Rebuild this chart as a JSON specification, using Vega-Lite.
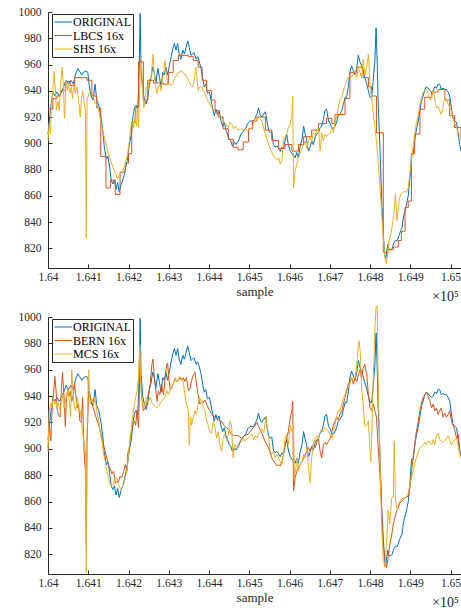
{
"$schema": "https://vega.github.io/schema/vega-lite/v6.json",
"background": "white",
"padding": {"left": 18, "top": 6, "right": 2, "bottom": 2},
"spacing": 0,
"config": {
  "view": {"stroke": null},
  "font": "Liberation Serif",
  "axis": {"domainColor": "#262626", "domainWidth": 1, "tickColor": "#262626", "tickSize": -4, "tickWidth": 1, "labelFont": "Liberation Serif", "labelFontSize": 11.5, "labelColor": "#262626", "titleFont": "Liberation Serif", "titleFontSize": 13, "titleFontWeight": "normal", "titleColor": "#262626", "grid": false},
  "axisX": {"labelPadding": 7, "titlePadding": 3, "labelFlush": false},
  "axisY": {"labelPadding": 11, "format": "d"},
  "legend": {"orient": "none", "legendX": 4, "legendY": 2, "strokeColor": "#262626", "fillColor": "white", "padding": 2, "symbolType": "M-1,0H2.2", "symbolSize": 121, "symbolStrokeWidth": 1.5, "labelFont": "Liberation Serif", "labelFontSize": 12, "labelColor": "black", "labelOffset": 7, "rowPadding": 1.5, "title": null},
  "line": {"strokeWidth": 1, "clip": true},
  "title": {"font": "Liberation Serif", "fontSize": 14, "fontWeight": "normal", "color": "#262626"}
},
"datasets": {
"orig": [
{"s":"ORIGINAL","x":164000,"y":907},{"s":"ORIGINAL","x":164006,"y":925},{"s":"ORIGINAL","x":164012,"y":939},{"s":"ORIGINAL","x":164017,"y":936},{"s":"ORIGINAL","x":164022,"y":939},{"s":"ORIGINAL","x":164028,"y":936},{"s":"ORIGINAL","x":164035,"y":940},{"s":"ORIGINAL","x":164040,"y":944},{"s":"ORIGINAL","x":164045,"y":948},{"s":"ORIGINAL","x":164051,"y":945},{"s":"ORIGINAL","x":164057,"y":948},{"s":"ORIGINAL","x":164063,"y":945},{"s":"ORIGINAL","x":164068,"y":952},{"s":"ORIGINAL","x":164074,"y":957},{"s":"ORIGINAL","x":164078,"y":955},{"s":"ORIGINAL","x":164084,"y":952},{"s":"ORIGINAL","x":164088,"y":954},{"s":"ORIGINAL","x":164094,"y":955},{"s":"ORIGINAL","x":164099,"y":954},{"s":"ORIGINAL","x":164102,"y":945},{"s":"ORIGINAL","x":164107,"y":936},{"s":"ORIGINAL","x":164112,"y":933},{"s":"ORIGINAL","x":164117,"y":945},{"s":"ORIGINAL","x":164121,"y":933},{"s":"ORIGINAL","x":164126,"y":929},{"s":"ORIGINAL","x":164131,"y":921},{"s":"ORIGINAL","x":164136,"y":910},{"s":"ORIGINAL","x":164140,"y":897},{"s":"ORIGINAL","x":164145,"y":888},{"s":"ORIGINAL","x":164149,"y":890},{"s":"ORIGINAL","x":164153,"y":882},{"s":"ORIGINAL","x":164157,"y":872},{"s":"ORIGINAL","x":164161,"y":869},{"s":"ORIGINAL","x":164165,"y":872},{"s":"ORIGINAL","x":164169,"y":865},{"s":"ORIGINAL","x":164173,"y":870},{"s":"ORIGINAL","x":164177,"y":863},{"s":"ORIGINAL","x":164182,"y":869},{"s":"ORIGINAL","x":164186,"y":872},{"s":"ORIGINAL","x":164190,"y":877},{"s":"ORIGINAL","x":164194,"y":883},{"s":"ORIGINAL","x":164198,"y":889},{"s":"ORIGINAL","x":164202,"y":899},{"s":"ORIGINAL","x":164207,"y":907},{"s":"ORIGINAL","x":164211,"y":920},{"s":"ORIGINAL","x":164215,"y":927},{"s":"ORIGINAL","x":164219,"y":929},{"s":"ORIGINAL","x":164223,"y":926},{"s":"ORIGINAL","x":164226,"y":950},{"s":"ORIGINAL","x":164229,"y":999},{"s":"ORIGINAL","x":164231,"y":958},{"s":"ORIGINAL","x":164235,"y":940},{"s":"ORIGINAL","x":164240,"y":933},{"s":"ORIGINAL","x":164244,"y":930},{"s":"ORIGINAL","x":164248,"y":935},{"s":"ORIGINAL","x":164252,"y":945},{"s":"ORIGINAL","x":164256,"y":950},{"s":"ORIGINAL","x":164260,"y":958},{"s":"ORIGINAL","x":164264,"y":954},{"s":"ORIGINAL","x":164268,"y":946},{"s":"ORIGINAL","x":164273,"y":957},{"s":"ORIGINAL","x":164277,"y":950},{"s":"ORIGINAL","x":164281,"y":943},{"s":"ORIGINAL","x":164285,"y":954},{"s":"ORIGINAL","x":164289,"y":952},{"s":"ORIGINAL","x":164293,"y":958},{"s":"ORIGINAL","x":164297,"y":952},{"s":"ORIGINAL","x":164301,"y":958},{"s":"ORIGINAL","x":164306,"y":966},{"s":"ORIGINAL","x":164310,"y":972},{"s":"ORIGINAL","x":164314,"y":976},{"s":"ORIGINAL","x":164318,"y":971},{"s":"ORIGINAL","x":164322,"y":976},{"s":"ORIGINAL","x":164326,"y":968},{"s":"ORIGINAL","x":164330,"y":964},{"s":"ORIGINAL","x":164335,"y":971},{"s":"ORIGINAL","x":164339,"y":968},{"s":"ORIGINAL","x":164343,"y":973},{"s":"ORIGINAL","x":164347,"y":978},{"s":"ORIGINAL","x":164351,"y":973},{"s":"ORIGINAL","x":164355,"y":967},{"s":"ORIGINAL","x":164359,"y":968},{"s":"ORIGINAL","x":164363,"y":969},{"s":"ORIGINAL","x":164368,"y":964},{"s":"ORIGINAL","x":164372,"y":966},{"s":"ORIGINAL","x":164376,"y":962},{"s":"ORIGINAL","x":164380,"y":957},{"s":"ORIGINAL","x":164384,"y":950},{"s":"ORIGINAL","x":164388,"y":943},{"s":"ORIGINAL","x":164392,"y":945},{"s":"ORIGINAL","x":164396,"y":938},{"s":"ORIGINAL","x":164401,"y":939},{"s":"ORIGINAL","x":164405,"y":933},{"s":"ORIGINAL","x":164409,"y":927},{"s":"ORIGINAL","x":164413,"y":921},{"s":"ORIGINAL","x":164417,"y":926},{"s":"ORIGINAL","x":164421,"y":922},{"s":"ORIGINAL","x":164425,"y":925},{"s":"ORIGINAL","x":164430,"y":917},{"s":"ORIGINAL","x":164434,"y":913},{"s":"ORIGINAL","x":164438,"y":916},{"s":"ORIGINAL","x":164442,"y":910},{"s":"ORIGINAL","x":164446,"y":907},{"s":"ORIGINAL","x":164450,"y":903},{"s":"ORIGINAL","x":164454,"y":902},{"s":"ORIGINAL","x":164458,"y":898},{"s":"ORIGINAL","x":164463,"y":901},{"s":"ORIGINAL","x":164467,"y":899},{"s":"ORIGINAL","x":164471,"y":901},{"s":"ORIGINAL","x":164475,"y":903},{"s":"ORIGINAL","x":164479,"y":907},{"s":"ORIGINAL","x":164483,"y":908},{"s":"ORIGINAL","x":164487,"y":910},{"s":"ORIGINAL","x":164491,"y":911},{"s":"ORIGINAL","x":164496,"y":915},{"s":"ORIGINAL","x":164502,"y":917},{"s":"ORIGINAL","x":164511,"y":917},{"s":"ORIGINAL","x":164519,"y":922},{"s":"ORIGINAL","x":164523,"y":927},{"s":"ORIGINAL","x":164527,"y":922},{"s":"ORIGINAL","x":164531,"y":920},{"s":"ORIGINAL","x":164540,"y":924},{"s":"ORIGINAL","x":164544,"y":917},{"s":"ORIGINAL","x":164548,"y":910},{"s":"ORIGINAL","x":164552,"y":908},{"s":"ORIGINAL","x":164556,"y":909},{"s":"ORIGINAL","x":164560,"y":899},{"s":"ORIGINAL","x":164564,"y":897},{"s":"ORIGINAL","x":164569,"y":898},{"s":"ORIGINAL","x":164573,"y":896},{"s":"ORIGINAL","x":164577,"y":894},{"s":"ORIGINAL","x":164581,"y":897},{"s":"ORIGINAL","x":164585,"y":896},{"s":"ORIGINAL","x":164589,"y":902},{"s":"ORIGINAL","x":164593,"y":907},{"s":"ORIGINAL","x":164597,"y":899},{"s":"ORIGINAL","x":164602,"y":894},{"s":"ORIGINAL","x":164606,"y":892},{"s":"ORIGINAL","x":164610,"y":891},{"s":"ORIGINAL","x":164614,"y":889},{"s":"ORIGINAL","x":164618,"y":893},{"s":"ORIGINAL","x":164622,"y":889},{"s":"ORIGINAL","x":164626,"y":897},{"s":"ORIGINAL","x":164631,"y":903},{"s":"ORIGINAL","x":164635,"y":913},{"s":"ORIGINAL","x":164639,"y":907},{"s":"ORIGINAL","x":164643,"y":902},{"s":"ORIGINAL","x":164647,"y":894},{"s":"ORIGINAL","x":164651,"y":897},{"s":"ORIGINAL","x":164655,"y":902},{"s":"ORIGINAL","x":164659,"y":899},{"s":"ORIGINAL","x":164664,"y":905},{"s":"ORIGINAL","x":164668,"y":907},{"s":"ORIGINAL","x":164672,"y":908},{"s":"ORIGINAL","x":164676,"y":912},{"s":"ORIGINAL","x":164680,"y":913},{"s":"ORIGINAL","x":164684,"y":918},{"s":"ORIGINAL","x":164688,"y":925},{"s":"ORIGINAL","x":164692,"y":926},{"s":"ORIGINAL","x":164697,"y":917},{"s":"ORIGINAL","x":164701,"y":915},{"s":"ORIGINAL","x":164705,"y":912},{"s":"ORIGINAL","x":164709,"y":911},{"s":"ORIGINAL","x":164713,"y":913},{"s":"ORIGINAL","x":164717,"y":916},{"s":"ORIGINAL","x":164721,"y":921},{"s":"ORIGINAL","x":164725,"y":922},{"s":"ORIGINAL","x":164730,"y":925},{"s":"ORIGINAL","x":164734,"y":930},{"s":"ORIGINAL","x":164738,"y":935},{"s":"ORIGINAL","x":164742,"y":935},{"s":"ORIGINAL","x":164746,"y":943},{"s":"ORIGINAL","x":164750,"y":954},{"s":"ORIGINAL","x":164754,"y":959},{"s":"ORIGINAL","x":164759,"y":955},{"s":"ORIGINAL","x":164763,"y":952},{"s":"ORIGINAL","x":164767,"y":958},{"s":"ORIGINAL","x":164771,"y":967},{"s":"ORIGINAL","x":164775,"y":962},{"s":"ORIGINAL","x":164779,"y":959},{"s":"ORIGINAL","x":164783,"y":955},{"s":"ORIGINAL","x":164787,"y":950},{"s":"ORIGINAL","x":164792,"y":945},{"s":"ORIGINAL","x":164796,"y":940},{"s":"ORIGINAL","x":164800,"y":935},{"s":"ORIGINAL","x":164804,"y":935},{"s":"ORIGINAL","x":164808,"y":948},{"s":"ORIGINAL","x":164812,"y":963},{"s":"ORIGINAL","x":164815,"y":988},{"s":"ORIGINAL","x":164818,"y":960},{"s":"ORIGINAL","x":164820,"y":933},{"s":"ORIGINAL","x":164825,"y":894},{"s":"ORIGINAL","x":164829,"y":856},{"s":"ORIGINAL","x":164833,"y":831},{"s":"ORIGINAL","x":164837,"y":814},{"s":"ORIGINAL","x":164839,"y":812},{"s":"ORIGINAL","x":164844,"y":823},{"s":"ORIGINAL","x":164847,"y":819},{"s":"ORIGINAL","x":164852,"y":819},{"s":"ORIGINAL","x":164855,"y":820},{"s":"ORIGINAL","x":164859,"y":824},{"s":"ORIGINAL","x":164863,"y":826},{"s":"ORIGINAL","x":164868,"y":826},{"s":"ORIGINAL","x":164872,"y":830},{"s":"ORIGINAL","x":164876,"y":833},{"s":"ORIGINAL","x":164880,"y":836},{"s":"ORIGINAL","x":164882,"y":842},{"s":"ORIGINAL","x":164887,"y":849},{"s":"ORIGINAL","x":164891,"y":854},{"s":"ORIGINAL","x":164895,"y":860},{"s":"ORIGINAL","x":164899,"y":873},{"s":"ORIGINAL","x":164903,"y":892},{"s":"ORIGINAL","x":164907,"y":892},{"s":"ORIGINAL","x":164911,"y":902},{"s":"ORIGINAL","x":164915,"y":910},{"s":"ORIGINAL","x":164920,"y":917},{"s":"ORIGINAL","x":164924,"y":925},{"s":"ORIGINAL","x":164928,"y":933},{"s":"ORIGINAL","x":164932,"y":936},{"s":"ORIGINAL","x":164936,"y":941},{"s":"ORIGINAL","x":164940,"y":943},{"s":"ORIGINAL","x":164944,"y":942},{"s":"ORIGINAL","x":164949,"y":940},{"s":"ORIGINAL","x":164953,"y":939},{"s":"ORIGINAL","x":164957,"y":940},{"s":"ORIGINAL","x":164961,"y":943},{"s":"ORIGINAL","x":164965,"y":942},{"s":"ORIGINAL","x":164969,"y":945},{"s":"ORIGINAL","x":164973,"y":945},{"s":"ORIGINAL","x":164977,"y":941},{"s":"ORIGINAL","x":164981,"y":942},{"s":"ORIGINAL","x":164986,"y":941},{"s":"ORIGINAL","x":164990,"y":941},{"s":"ORIGINAL","x":164994,"y":939},{"s":"ORIGINAL","x":164998,"y":936},{"s":"ORIGINAL","x":165002,"y":927},{"s":"ORIGINAL","x":165006,"y":919},{"s":"ORIGINAL","x":165010,"y":917},{"s":"ORIGINAL","x":165015,"y":916},{"s":"ORIGINAL","x":165019,"y":907},{"s":"ORIGINAL","x":165023,"y":899},{"s":"ORIGINAL","x":165026,"y":894}
],
"top": [
{"s":"LBCS 16x","x":164000,"y":926},{"s":"LBCS 16x","x":164012,"y":934},{"s":"LBCS 16x","x":164022,"y":936},{"s":"LBCS 16x","x":164031,"y":940},{"s":"LBCS 16x","x":164043,"y":947},{"s":"LBCS 16x","x":164055,"y":944},{"s":"LBCS 16x","x":164066,"y":950},{"s":"LBCS 16x","x":164097,"y":948},{"s":"LBCS 16x","x":164109,"y":936},{"s":"LBCS 16x","x":164121,"y":927},{"s":"LBCS 16x","x":164131,"y":890},{"s":"LBCS 16x","x":164144,"y":866},{"s":"LBCS 16x","x":164155,"y":872},{"s":"LBCS 16x","x":164167,"y":861},{"s":"LBCS 16x","x":164179,"y":878},{"s":"LBCS 16x","x":164192,"y":885},{"s":"LBCS 16x","x":164200,"y":892},{"s":"LBCS 16x","x":164208,"y":916},{"s":"LBCS 16x","x":164218,"y":927},{"s":"LBCS 16x","x":164225,"y":962},{"s":"LBCS 16x","x":164237,"y":933},{"s":"LBCS 16x","x":164248,"y":948},{"s":"LBCS 16x","x":164262,"y":946},{"s":"LBCS 16x","x":164287,"y":945},{"s":"LBCS 16x","x":164299,"y":954},{"s":"LBCS 16x","x":164311,"y":963},{"s":"LBCS 16x","x":164324,"y":967},{"s":"LBCS 16x","x":164349,"y":966},{"s":"LBCS 16x","x":164361,"y":963},{"s":"LBCS 16x","x":164373,"y":958},{"s":"LBCS 16x","x":164383,"y":948},{"s":"LBCS 16x","x":164394,"y":940},{"s":"LBCS 16x","x":164406,"y":933},{"s":"LBCS 16x","x":164415,"y":925},{"s":"LBCS 16x","x":164423,"y":920},{"s":"LBCS 16x","x":164435,"y":911},{"s":"LBCS 16x","x":164448,"y":903},{"s":"LBCS 16x","x":164460,"y":897},{"s":"LBCS 16x","x":164472,"y":895},{"s":"LBCS 16x","x":164485,"y":901},{"s":"LBCS 16x","x":164498,"y":911},{"s":"LBCS 16x","x":164508,"y":917},{"s":"LBCS 16x","x":164519,"y":920},{"s":"LBCS 16x","x":164540,"y":910},{"s":"LBCS 16x","x":164556,"y":902},{"s":"LBCS 16x","x":164573,"y":896},{"s":"LBCS 16x","x":164589,"y":899},{"s":"LBCS 16x","x":164606,"y":894},{"s":"LBCS 16x","x":164622,"y":899},{"s":"LBCS 16x","x":164635,"y":905},{"s":"LBCS 16x","x":164655,"y":910},{"s":"LBCS 16x","x":164672,"y":915},{"s":"LBCS 16x","x":164692,"y":919},{"s":"LBCS 16x","x":164705,"y":915},{"s":"LBCS 16x","x":164713,"y":922},{"s":"LBCS 16x","x":164738,"y":934},{"s":"LBCS 16x","x":164750,"y":954},{"s":"LBCS 16x","x":164767,"y":958},{"s":"LBCS 16x","x":164783,"y":950},{"s":"LBCS 16x","x":164796,"y":943},{"s":"LBCS 16x","x":164804,"y":936},{"s":"LBCS 16x","x":164816,"y":908},{"s":"LBCS 16x","x":164833,"y":817},{"s":"LBCS 16x","x":164845,"y":819},{"s":"LBCS 16x","x":164858,"y":821},{"s":"LBCS 16x","x":164870,"y":826},{"s":"LBCS 16x","x":164878,"y":833},{"s":"LBCS 16x","x":164887,"y":851},{"s":"LBCS 16x","x":164895,"y":856},{"s":"LBCS 16x","x":164903,"y":892},{"s":"LBCS 16x","x":164911,"y":907},{"s":"LBCS 16x","x":164924,"y":926},{"s":"LBCS 16x","x":164936,"y":935},{"s":"LBCS 16x","x":164953,"y":939},{"s":"LBCS 16x","x":164969,"y":941},{"s":"LBCS 16x","x":164986,"y":933},{"s":"LBCS 16x","x":164998,"y":921},{"s":"LBCS 16x","x":165010,"y":912},{"s":"LBCS 16x","x":165026,"y":905},
{"s":"SHS 16x","x":164000,"y":902},{"s":"SHS 16x","x":164003,"y":915},{"s":"SHS 16x","x":164006,"y":907},{"s":"SHS 16x","x":164008,"y":925},{"s":"SHS 16x","x":164012,"y":940},{"s":"SHS 16x","x":164015,"y":955},{"s":"SHS 16x","x":164018,"y":943},{"s":"SHS 16x","x":164021,"y":925},{"s":"SHS 16x","x":164025,"y":932},{"s":"SHS 16x","x":164028,"y":925},{"s":"SHS 16x","x":164031,"y":943},{"s":"SHS 16x","x":164035,"y":958},{"s":"SHS 16x","x":164038,"y":945},{"s":"SHS 16x","x":164041,"y":919},{"s":"SHS 16x","x":164045,"y":948},{"s":"SHS 16x","x":164048,"y":940},{"s":"SHS 16x","x":164051,"y":945},{"s":"SHS 16x","x":164055,"y":938},{"s":"SHS 16x","x":164058,"y":943},{"s":"SHS 16x","x":164061,"y":934},{"s":"SHS 16x","x":164064,"y":945},{"s":"SHS 16x","x":164068,"y":938},{"s":"SHS 16x","x":164072,"y":943},{"s":"SHS 16x","x":164076,"y":933},{"s":"SHS 16x","x":164080,"y":920},{"s":"SHS 16x","x":164083,"y":933},{"s":"SHS 16x","x":164086,"y":940},{"s":"SHS 16x","x":164089,"y":933},{"s":"SHS 16x","x":164093,"y":925},{"s":"SHS 16x","x":164095,"y":828},{"s":"SHS 16x","x":164097,"y":933},{"s":"SHS 16x","x":164102,"y":938},{"s":"SHS 16x","x":164107,"y":940},{"s":"SHS 16x","x":164113,"y":935},{"s":"SHS 16x","x":164117,"y":930},{"s":"SHS 16x","x":164121,"y":930},{"s":"SHS 16x","x":164126,"y":925},{"s":"SHS 16x","x":164134,"y":912},{"s":"SHS 16x","x":164142,"y":902},{"s":"SHS 16x","x":164150,"y":892},{"s":"SHS 16x","x":164159,"y":884},{"s":"SHS 16x","x":164167,"y":877},{"s":"SHS 16x","x":164173,"y":873},{"s":"SHS 16x","x":164179,"y":877},{"s":"SHS 16x","x":164185,"y":879},{"s":"SHS 16x","x":164192,"y":884},{"s":"SHS 16x","x":164198,"y":892},{"s":"SHS 16x","x":164202,"y":902},{"s":"SHS 16x","x":164207,"y":915},{"s":"SHS 16x","x":164210,"y":917},{"s":"SHS 16x","x":164213,"y":912},{"s":"SHS 16x","x":164216,"y":920},{"s":"SHS 16x","x":164220,"y":913},{"s":"SHS 16x","x":164223,"y":927},{"s":"SHS 16x","x":164225,"y":912},{"s":"SHS 16x","x":164228,"y":945},{"s":"SHS 16x","x":164230,"y":961},{"s":"SHS 16x","x":164233,"y":955},{"s":"SHS 16x","x":164235,"y":940},{"s":"SHS 16x","x":164238,"y":927},{"s":"SHS 16x","x":164241,"y":932},{"s":"SHS 16x","x":164244,"y":943},{"s":"SHS 16x","x":164248,"y":940},{"s":"SHS 16x","x":164251,"y":948},{"s":"SHS 16x","x":164256,"y":950},{"s":"SHS 16x","x":164261,"y":968},{"s":"SHS 16x","x":164264,"y":952},{"s":"SHS 16x","x":164268,"y":943},{"s":"SHS 16x","x":164271,"y":938},{"s":"SHS 16x","x":164274,"y":943},{"s":"SHS 16x","x":164278,"y":945},{"s":"SHS 16x","x":164281,"y":940},{"s":"SHS 16x","x":164284,"y":948},{"s":"SHS 16x","x":164287,"y":953},{"s":"SHS 16x","x":164291,"y":963},{"s":"SHS 16x","x":164294,"y":950},{"s":"SHS 16x","x":164299,"y":945},{"s":"SHS 16x","x":164307,"y":944},{"s":"SHS 16x","x":164316,"y":950},{"s":"SHS 16x","x":164324,"y":954},{"s":"SHS 16x","x":164332,"y":955},{"s":"SHS 16x","x":164340,"y":953},{"s":"SHS 16x","x":164349,"y":948},{"s":"SHS 16x","x":164355,"y":944},{"s":"SHS 16x","x":164360,"y":943},{"s":"SHS 16x","x":164363,"y":948},{"s":"SHS 16x","x":164367,"y":958},{"s":"SHS 16x","x":164370,"y":950},{"s":"SHS 16x","x":164373,"y":940},{"s":"SHS 16x","x":164377,"y":943},{"s":"SHS 16x","x":164382,"y":943},{"s":"SHS 16x","x":164386,"y":940},{"s":"SHS 16x","x":164390,"y":938},{"s":"SHS 16x","x":164396,"y":933},{"s":"SHS 16x","x":164402,"y":930},{"s":"SHS 16x","x":164406,"y":927},{"s":"SHS 16x","x":164413,"y":925},{"s":"SHS 16x","x":164419,"y":922},{"s":"SHS 16x","x":164425,"y":921},{"s":"SHS 16x","x":164431,"y":919},{"s":"SHS 16x","x":164438,"y":916},{"s":"SHS 16x","x":164444,"y":913},{"s":"SHS 16x","x":164448,"y":912},{"s":"SHS 16x","x":164452,"y":916},{"s":"SHS 16x","x":164456,"y":915},{"s":"SHS 16x","x":164461,"y":911},{"s":"SHS 16x","x":164466,"y":913},{"s":"SHS 16x","x":164472,"y":910},{"s":"SHS 16x","x":164481,"y":911},{"s":"SHS 16x","x":164489,"y":910},{"s":"SHS 16x","x":164498,"y":910},{"s":"SHS 16x","x":164507,"y":912},{"s":"SHS 16x","x":164515,"y":919},{"s":"SHS 16x","x":164523,"y":920},{"s":"SHS 16x","x":164531,"y":917},{"s":"SHS 16x","x":164540,"y":907},{"s":"SHS 16x","x":164548,"y":899},{"s":"SHS 16x","x":164556,"y":893},{"s":"SHS 16x","x":164564,"y":889},{"s":"SHS 16x","x":164569,"y":887},{"s":"SHS 16x","x":164573,"y":889},{"s":"SHS 16x","x":164577,"y":884},{"s":"SHS 16x","x":164581,"y":887},{"s":"SHS 16x","x":164585,"y":902},{"s":"SHS 16x","x":164589,"y":905},{"s":"SHS 16x","x":164593,"y":907},{"s":"SHS 16x","x":164597,"y":912},{"s":"SHS 16x","x":164602,"y":915},{"s":"SHS 16x","x":164606,"y":922},{"s":"SHS 16x","x":164608,"y":936},{"s":"SHS 16x","x":164610,"y":866},{"s":"SHS 16x","x":164614,"y":879},{"s":"SHS 16x","x":164622,"y":889},{"s":"SHS 16x","x":164631,"y":896},{"s":"SHS 16x","x":164635,"y":899},{"s":"SHS 16x","x":164639,"y":902},{"s":"SHS 16x","x":164643,"y":896},{"s":"SHS 16x","x":164647,"y":902},{"s":"SHS 16x","x":164651,"y":905},{"s":"SHS 16x","x":164655,"y":901},{"s":"SHS 16x","x":164659,"y":908},{"s":"SHS 16x","x":164664,"y":906},{"s":"SHS 16x","x":164668,"y":911},{"s":"SHS 16x","x":164672,"y":912},{"s":"SHS 16x","x":164676,"y":894},{"s":"SHS 16x","x":164680,"y":908},{"s":"SHS 16x","x":164684,"y":902},{"s":"SHS 16x","x":164688,"y":907},{"s":"SHS 16x","x":164692,"y":905},{"s":"SHS 16x","x":164697,"y":907},{"s":"SHS 16x","x":164701,"y":908},{"s":"SHS 16x","x":164705,"y":912},{"s":"SHS 16x","x":164709,"y":908},{"s":"SHS 16x","x":164713,"y":917},{"s":"SHS 16x","x":164717,"y":920},{"s":"SHS 16x","x":164721,"y":927},{"s":"SHS 16x","x":164725,"y":933},{"s":"SHS 16x","x":164730,"y":935},{"s":"SHS 16x","x":164734,"y":940},{"s":"SHS 16x","x":164738,"y":944},{"s":"SHS 16x","x":164742,"y":948},{"s":"SHS 16x","x":164746,"y":950},{"s":"SHS 16x","x":164750,"y":952},{"s":"SHS 16x","x":164754,"y":950},{"s":"SHS 16x","x":164759,"y":953},{"s":"SHS 16x","x":164763,"y":955},{"s":"SHS 16x","x":164767,"y":950},{"s":"SHS 16x","x":164771,"y":958},{"s":"SHS 16x","x":164775,"y":954},{"s":"SHS 16x","x":164779,"y":950},{"s":"SHS 16x","x":164783,"y":964},{"s":"SHS 16x","x":164787,"y":952},{"s":"SHS 16x","x":164792,"y":959},{"s":"SHS 16x","x":164796,"y":968},{"s":"SHS 16x","x":164800,"y":945},{"s":"SHS 16x","x":164804,"y":935},{"s":"SHS 16x","x":164808,"y":922},{"s":"SHS 16x","x":164812,"y":912},{"s":"SHS 16x","x":164816,"y":902},{"s":"SHS 16x","x":164820,"y":887},{"s":"SHS 16x","x":164825,"y":866},{"s":"SHS 16x","x":164829,"y":846},{"s":"SHS 16x","x":164833,"y":828},{"s":"SHS 16x","x":164837,"y":813},{"s":"SHS 16x","x":164841,"y":808},{"s":"SHS 16x","x":164844,"y":816},{"s":"SHS 16x","x":164847,"y":826},{"s":"SHS 16x","x":164852,"y":831},{"s":"SHS 16x","x":164857,"y":841},{"s":"SHS 16x","x":164860,"y":849},{"s":"SHS 16x","x":164863,"y":861},{"s":"SHS 16x","x":164867,"y":841},{"s":"SHS 16x","x":164870,"y":851},{"s":"SHS 16x","x":164874,"y":859},{"s":"SHS 16x","x":164878,"y":862},{"s":"SHS 16x","x":164882,"y":863},{"s":"SHS 16x","x":164891,"y":863},{"s":"SHS 16x","x":164895,"y":866},{"s":"SHS 16x","x":164899,"y":877},{"s":"SHS 16x","x":164903,"y":887},{"s":"SHS 16x","x":164907,"y":897},{"s":"SHS 16x","x":164911,"y":907},{"s":"SHS 16x","x":164915,"y":915},{"s":"SHS 16x","x":164920,"y":922},{"s":"SHS 16x","x":164924,"y":930},{"s":"SHS 16x","x":164928,"y":935},{"s":"SHS 16x","x":164932,"y":939},{"s":"SHS 16x","x":164936,"y":940},{"s":"SHS 16x","x":164940,"y":941},{"s":"SHS 16x","x":164944,"y":938},{"s":"SHS 16x","x":164949,"y":933},{"s":"SHS 16x","x":164953,"y":935},{"s":"SHS 16x","x":164957,"y":940},{"s":"SHS 16x","x":164961,"y":933},{"s":"SHS 16x","x":164965,"y":927},{"s":"SHS 16x","x":164969,"y":928},{"s":"SHS 16x","x":164973,"y":925},{"s":"SHS 16x","x":164977,"y":922},{"s":"SHS 16x","x":164981,"y":927},{"s":"SHS 16x","x":164986,"y":935},{"s":"SHS 16x","x":164990,"y":933},{"s":"SHS 16x","x":164994,"y":930},{"s":"SHS 16x","x":164998,"y":927},{"s":"SHS 16x","x":165002,"y":925},{"s":"SHS 16x","x":165006,"y":920},{"s":"SHS 16x","x":165010,"y":915},{"s":"SHS 16x","x":165015,"y":912},{"s":"SHS 16x","x":165019,"y":908},{"s":"SHS 16x","x":165023,"y":907},{"s":"SHS 16x","x":165026,"y":902}
],
"bot": [
{"s":"BERN 16x","x":164000,"y":901},{"s":"BERN 16x","x":164003,"y":918},{"s":"BERN 16x","x":164007,"y":906},{"s":"BERN 16x","x":164010,"y":929},{"s":"BERN 16x","x":164013,"y":939},{"s":"BERN 16x","x":164017,"y":955},{"s":"BERN 16x","x":164020,"y":944},{"s":"BERN 16x","x":164023,"y":929},{"s":"BERN 16x","x":164026,"y":926},{"s":"BERN 16x","x":164030,"y":924},{"s":"BERN 16x","x":164033,"y":944},{"s":"BERN 16x","x":164036,"y":958},{"s":"BERN 16x","x":164040,"y":939},{"s":"BERN 16x","x":164043,"y":917},{"s":"BERN 16x","x":164046,"y":939},{"s":"BERN 16x","x":164050,"y":946},{"s":"BERN 16x","x":164053,"y":940},{"s":"BERN 16x","x":164056,"y":944},{"s":"BERN 16x","x":164059,"y":936},{"s":"BERN 16x","x":164063,"y":941},{"s":"BERN 16x","x":164066,"y":949},{"s":"BERN 16x","x":164069,"y":941},{"s":"BERN 16x","x":164073,"y":931},{"s":"BERN 16x","x":164076,"y":934},{"s":"BERN 16x","x":164079,"y":921},{"s":"BERN 16x","x":164083,"y":920},{"s":"BERN 16x","x":164086,"y":939},{"s":"BERN 16x","x":164089,"y":901},{"s":"BERN 16x","x":164093,"y":883},{"s":"BERN 16x","x":164095,"y":827},{"s":"BERN 16x","x":164097,"y":904},{"s":"BERN 16x","x":164101,"y":944},{"s":"BERN 16x","x":164105,"y":939},{"s":"BERN 16x","x":164109,"y":934},{"s":"BERN 16x","x":164113,"y":931},{"s":"BERN 16x","x":164117,"y":926},{"s":"BERN 16x","x":164126,"y":918},{"s":"BERN 16x","x":164134,"y":908},{"s":"BERN 16x","x":164142,"y":898},{"s":"BERN 16x","x":164150,"y":888},{"s":"BERN 16x","x":164159,"y":881},{"s":"BERN 16x","x":164163,"y":883},{"s":"BERN 16x","x":164167,"y":874},{"s":"BERN 16x","x":164171,"y":875},{"s":"BERN 16x","x":164175,"y":875},{"s":"BERN 16x","x":164179,"y":879},{"s":"BERN 16x","x":164183,"y":878},{"s":"BERN 16x","x":164188,"y":883},{"s":"BERN 16x","x":164192,"y":888},{"s":"BERN 16x","x":164196,"y":883},{"s":"BERN 16x","x":164198,"y":896},{"s":"BERN 16x","x":164202,"y":901},{"s":"BERN 16x","x":164205,"y":908},{"s":"BERN 16x","x":164208,"y":913},{"s":"BERN 16x","x":164211,"y":918},{"s":"BERN 16x","x":164215,"y":921},{"s":"BERN 16x","x":164218,"y":918},{"s":"BERN 16x","x":164221,"y":929},{"s":"BERN 16x","x":164225,"y":916},{"s":"BERN 16x","x":164228,"y":959},{"s":"BERN 16x","x":164230,"y":954},{"s":"BERN 16x","x":164233,"y":939},{"s":"BERN 16x","x":164237,"y":929},{"s":"BERN 16x","x":164241,"y":931},{"s":"BERN 16x","x":164245,"y":934},{"s":"BERN 16x","x":164249,"y":941},{"s":"BERN 16x","x":164254,"y":949},{"s":"BERN 16x","x":164258,"y":964},{"s":"BERN 16x","x":164261,"y":968},{"s":"BERN 16x","x":164264,"y":954},{"s":"BERN 16x","x":164268,"y":944},{"s":"BERN 16x","x":164271,"y":936},{"s":"BERN 16x","x":164274,"y":944},{"s":"BERN 16x","x":164278,"y":941},{"s":"BERN 16x","x":164282,"y":949},{"s":"BERN 16x","x":164287,"y":941},{"s":"BERN 16x","x":164291,"y":954},{"s":"BERN 16x","x":164295,"y":964},{"s":"BERN 16x","x":164297,"y":965},{"s":"BERN 16x","x":164301,"y":951},{"s":"BERN 16x","x":164304,"y":945},{"s":"BERN 16x","x":164307,"y":946},{"s":"BERN 16x","x":164311,"y":949},{"s":"BERN 16x","x":164316,"y":953},{"s":"BERN 16x","x":164320,"y":951},{"s":"BERN 16x","x":164324,"y":952},{"s":"BERN 16x","x":164328,"y":954},{"s":"BERN 16x","x":164332,"y":952},{"s":"BERN 16x","x":164336,"y":954},{"s":"BERN 16x","x":164340,"y":951},{"s":"BERN 16x","x":164344,"y":954},{"s":"BERN 16x","x":164349,"y":944},{"s":"BERN 16x","x":164353,"y":946},{"s":"BERN 16x","x":164357,"y":952},{"s":"BERN 16x","x":164361,"y":956},{"s":"BERN 16x","x":164365,"y":958},{"s":"BERN 16x","x":164369,"y":949},{"s":"BERN 16x","x":164373,"y":941},{"s":"BERN 16x","x":164377,"y":934},{"s":"BERN 16x","x":164382,"y":936},{"s":"BERN 16x","x":164386,"y":935},{"s":"BERN 16x","x":164390,"y":937},{"s":"BERN 16x","x":164394,"y":934},{"s":"BERN 16x","x":164398,"y":931},{"s":"BERN 16x","x":164402,"y":929},{"s":"BERN 16x","x":164406,"y":927},{"s":"BERN 16x","x":164411,"y":925},{"s":"BERN 16x","x":164415,"y":924},{"s":"BERN 16x","x":164423,"y":922},{"s":"BERN 16x","x":164431,"y":921},{"s":"BERN 16x","x":164439,"y":917},{"s":"BERN 16x","x":164448,"y":915},{"s":"BERN 16x","x":164456,"y":911},{"s":"BERN 16x","x":164464,"y":910},{"s":"BERN 16x","x":164472,"y":910},{"s":"BERN 16x","x":164481,"y":908},{"s":"BERN 16x","x":164489,"y":910},{"s":"BERN 16x","x":164497,"y":911},{"s":"BERN 16x","x":164507,"y":915},{"s":"BERN 16x","x":164515,"y":918},{"s":"BERN 16x","x":164519,"y":920},{"s":"BERN 16x","x":164523,"y":917},{"s":"BERN 16x","x":164531,"y":912},{"s":"BERN 16x","x":164540,"y":905},{"s":"BERN 16x","x":164548,"y":901},{"s":"BERN 16x","x":164556,"y":893},{"s":"BERN 16x","x":164564,"y":889},{"s":"BERN 16x","x":164569,"y":887},{"s":"BERN 16x","x":164573,"y":888},{"s":"BERN 16x","x":164577,"y":887},{"s":"BERN 16x","x":164581,"y":890},{"s":"BERN 16x","x":164585,"y":896},{"s":"BERN 16x","x":164589,"y":903},{"s":"BERN 16x","x":164593,"y":908},{"s":"BERN 16x","x":164597,"y":913},{"s":"BERN 16x","x":164602,"y":924},{"s":"BERN 16x","x":164606,"y":929},{"s":"BERN 16x","x":164608,"y":936},{"s":"BERN 16x","x":164610,"y":868},{"s":"BERN 16x","x":164614,"y":878},{"s":"BERN 16x","x":164618,"y":883},{"s":"BERN 16x","x":164622,"y":886},{"s":"BERN 16x","x":164626,"y":888},{"s":"BERN 16x","x":164631,"y":890},{"s":"BERN 16x","x":164635,"y":893},{"s":"BERN 16x","x":164639,"y":896},{"s":"BERN 16x","x":164643,"y":898},{"s":"BERN 16x","x":164647,"y":901},{"s":"BERN 16x","x":164651,"y":898},{"s":"BERN 16x","x":164655,"y":901},{"s":"BERN 16x","x":164659,"y":903},{"s":"BERN 16x","x":164664,"y":901},{"s":"BERN 16x","x":164668,"y":905},{"s":"BERN 16x","x":164672,"y":908},{"s":"BERN 16x","x":164676,"y":898},{"s":"BERN 16x","x":164680,"y":893},{"s":"BERN 16x","x":164684,"y":903},{"s":"BERN 16x","x":164688,"y":905},{"s":"BERN 16x","x":164692,"y":903},{"s":"BERN 16x","x":164697,"y":906},{"s":"BERN 16x","x":164701,"y":908},{"s":"BERN 16x","x":164705,"y":913},{"s":"BERN 16x","x":164709,"y":918},{"s":"BERN 16x","x":164713,"y":921},{"s":"BERN 16x","x":164717,"y":924},{"s":"BERN 16x","x":164721,"y":922},{"s":"BERN 16x","x":164725,"y":926},{"s":"BERN 16x","x":164730,"y":929},{"s":"BERN 16x","x":164734,"y":934},{"s":"BERN 16x","x":164738,"y":939},{"s":"BERN 16x","x":164742,"y":944},{"s":"BERN 16x","x":164746,"y":949},{"s":"BERN 16x","x":164750,"y":951},{"s":"BERN 16x","x":164754,"y":954},{"s":"BERN 16x","x":164759,"y":949},{"s":"BERN 16x","x":164763,"y":954},{"s":"BERN 16x","x":164767,"y":951},{"s":"BERN 16x","x":164771,"y":956},{"s":"BERN 16x","x":164775,"y":960},{"s":"BERN 16x","x":164779,"y":954},{"s":"BERN 16x","x":164783,"y":961},{"s":"BERN 16x","x":164787,"y":964},{"s":"BERN 16x","x":164792,"y":956},{"s":"BERN 16x","x":164796,"y":941},{"s":"BERN 16x","x":164800,"y":931},{"s":"BERN 16x","x":164804,"y":929},{"s":"BERN 16x","x":164808,"y":934},{"s":"BERN 16x","x":164812,"y":929},{"s":"BERN 16x","x":164816,"y":924},{"s":"BERN 16x","x":164820,"y":903},{"s":"BERN 16x","x":164825,"y":878},{"s":"BERN 16x","x":164829,"y":853},{"s":"BERN 16x","x":164833,"y":827},{"s":"BERN 16x","x":164837,"y":815},{"s":"BERN 16x","x":164841,"y":810},{"s":"BERN 16x","x":164845,"y":817},{"s":"BERN 16x","x":164849,"y":827},{"s":"BERN 16x","x":164854,"y":835},{"s":"BERN 16x","x":164858,"y":843},{"s":"BERN 16x","x":164862,"y":848},{"s":"BERN 16x","x":164866,"y":853},{"s":"BERN 16x","x":164870,"y":855},{"s":"BERN 16x","x":164874,"y":859},{"s":"BERN 16x","x":164878,"y":860},{"s":"BERN 16x","x":164887,"y":863},{"s":"BERN 16x","x":164895,"y":864},{"s":"BERN 16x","x":164899,"y":870},{"s":"BERN 16x","x":164903,"y":883},{"s":"BERN 16x","x":164907,"y":893},{"s":"BERN 16x","x":164911,"y":903},{"s":"BERN 16x","x":164915,"y":913},{"s":"BERN 16x","x":164920,"y":921},{"s":"BERN 16x","x":164924,"y":929},{"s":"BERN 16x","x":164928,"y":935},{"s":"BERN 16x","x":164932,"y":939},{"s":"BERN 16x","x":164936,"y":941},{"s":"BERN 16x","x":164940,"y":943},{"s":"BERN 16x","x":164944,"y":940},{"s":"BERN 16x","x":164949,"y":936},{"s":"BERN 16x","x":164953,"y":931},{"s":"BERN 16x","x":164957,"y":934},{"s":"BERN 16x","x":164961,"y":929},{"s":"BERN 16x","x":164965,"y":931},{"s":"BERN 16x","x":164969,"y":926},{"s":"BERN 16x","x":164973,"y":929},{"s":"BERN 16x","x":164977,"y":931},{"s":"BERN 16x","x":164981,"y":924},{"s":"BERN 16x","x":164986,"y":927},{"s":"BERN 16x","x":164990,"y":924},{"s":"BERN 16x","x":164994,"y":926},{"s":"BERN 16x","x":164998,"y":929},{"s":"BERN 16x","x":165002,"y":921},{"s":"BERN 16x","x":165006,"y":918},{"s":"BERN 16x","x":165010,"y":915},{"s":"BERN 16x","x":165015,"y":908},{"s":"BERN 16x","x":165019,"y":911},{"s":"BERN 16x","x":165023,"y":898},{"s":"BERN 16x","x":165026,"y":893},
{"s":"MCS 16x","x":164000,"y":898},{"s":"MCS 16x","x":164003,"y":929},{"s":"MCS 16x","x":164007,"y":934},{"s":"MCS 16x","x":164010,"y":931},{"s":"MCS 16x","x":164013,"y":939},{"s":"MCS 16x","x":164017,"y":934},{"s":"MCS 16x","x":164020,"y":936},{"s":"MCS 16x","x":164023,"y":931},{"s":"MCS 16x","x":164026,"y":935},{"s":"MCS 16x","x":164030,"y":929},{"s":"MCS 16x","x":164033,"y":936},{"s":"MCS 16x","x":164036,"y":941},{"s":"MCS 16x","x":164040,"y":931},{"s":"MCS 16x","x":164043,"y":936},{"s":"MCS 16x","x":164046,"y":941},{"s":"MCS 16x","x":164050,"y":945},{"s":"MCS 16x","x":164053,"y":936},{"s":"MCS 16x","x":164056,"y":924},{"s":"MCS 16x","x":164059,"y":960},{"s":"MCS 16x","x":164063,"y":939},{"s":"MCS 16x","x":164066,"y":931},{"s":"MCS 16x","x":164069,"y":929},{"s":"MCS 16x","x":164073,"y":939},{"s":"MCS 16x","x":164076,"y":929},{"s":"MCS 16x","x":164080,"y":929},{"s":"MCS 16x","x":164084,"y":918},{"s":"MCS 16x","x":164088,"y":908},{"s":"MCS 16x","x":164093,"y":898},{"s":"MCS 16x","x":164095,"y":806},{"s":"MCS 16x","x":164097,"y":916},{"s":"MCS 16x","x":164101,"y":960},{"s":"MCS 16x","x":164105,"y":934},{"s":"MCS 16x","x":164109,"y":938},{"s":"MCS 16x","x":164113,"y":934},{"s":"MCS 16x","x":164117,"y":939},{"s":"MCS 16x","x":164121,"y":929},{"s":"MCS 16x","x":164126,"y":921},{"s":"MCS 16x","x":164130,"y":911},{"s":"MCS 16x","x":164134,"y":906},{"s":"MCS 16x","x":164138,"y":896},{"s":"MCS 16x","x":164142,"y":891},{"s":"MCS 16x","x":164146,"y":883},{"s":"MCS 16x","x":164150,"y":878},{"s":"MCS 16x","x":164154,"y":873},{"s":"MCS 16x","x":164159,"y":872},{"s":"MCS 16x","x":164163,"y":874},{"s":"MCS 16x","x":164167,"y":878},{"s":"MCS 16x","x":164171,"y":878},{"s":"MCS 16x","x":164175,"y":873},{"s":"MCS 16x","x":164179,"y":870},{"s":"MCS 16x","x":164183,"y":870},{"s":"MCS 16x","x":164188,"y":873},{"s":"MCS 16x","x":164192,"y":878},{"s":"MCS 16x","x":164196,"y":883},{"s":"MCS 16x","x":164200,"y":896},{"s":"MCS 16x","x":164204,"y":908},{"s":"MCS 16x","x":164208,"y":918},{"s":"MCS 16x","x":164212,"y":929},{"s":"MCS 16x","x":164216,"y":936},{"s":"MCS 16x","x":164221,"y":944},{"s":"MCS 16x","x":164225,"y":954},{"s":"MCS 16x","x":164228,"y":979},{"s":"MCS 16x","x":164231,"y":944},{"s":"MCS 16x","x":164237,"y":931},{"s":"MCS 16x","x":164241,"y":934},{"s":"MCS 16x","x":164245,"y":939},{"s":"MCS 16x","x":164249,"y":935},{"s":"MCS 16x","x":164254,"y":939},{"s":"MCS 16x","x":164258,"y":935},{"s":"MCS 16x","x":164262,"y":934},{"s":"MCS 16x","x":164266,"y":932},{"s":"MCS 16x","x":164270,"y":931},{"s":"MCS 16x","x":164274,"y":932},{"s":"MCS 16x","x":164278,"y":934},{"s":"MCS 16x","x":164282,"y":936},{"s":"MCS 16x","x":164287,"y":938},{"s":"MCS 16x","x":164291,"y":939},{"s":"MCS 16x","x":164295,"y":944},{"s":"MCS 16x","x":164299,"y":941},{"s":"MCS 16x","x":164303,"y":944},{"s":"MCS 16x","x":164307,"y":946},{"s":"MCS 16x","x":164311,"y":949},{"s":"MCS 16x","x":164316,"y":954},{"s":"MCS 16x","x":164320,"y":951},{"s":"MCS 16x","x":164324,"y":953},{"s":"MCS 16x","x":164328,"y":955},{"s":"MCS 16x","x":164332,"y":953},{"s":"MCS 16x","x":164336,"y":951},{"s":"MCS 16x","x":164340,"y":941},{"s":"MCS 16x","x":164344,"y":934},{"s":"MCS 16x","x":164349,"y":929},{"s":"MCS 16x","x":164351,"y":903},{"s":"MCS 16x","x":164354,"y":924},{"s":"MCS 16x","x":164357,"y":918},{"s":"MCS 16x","x":164361,"y":924},{"s":"MCS 16x","x":164365,"y":929},{"s":"MCS 16x","x":164369,"y":926},{"s":"MCS 16x","x":164373,"y":934},{"s":"MCS 16x","x":164377,"y":939},{"s":"MCS 16x","x":164382,"y":935},{"s":"MCS 16x","x":164386,"y":931},{"s":"MCS 16x","x":164390,"y":929},{"s":"MCS 16x","x":164394,"y":921},{"s":"MCS 16x","x":164398,"y":918},{"s":"MCS 16x","x":164402,"y":913},{"s":"MCS 16x","x":164406,"y":912},{"s":"MCS 16x","x":164411,"y":921},{"s":"MCS 16x","x":164415,"y":916},{"s":"MCS 16x","x":164419,"y":908},{"s":"MCS 16x","x":164423,"y":913},{"s":"MCS 16x","x":164427,"y":903},{"s":"MCS 16x","x":164431,"y":898},{"s":"MCS 16x","x":164435,"y":908},{"s":"MCS 16x","x":164439,"y":911},{"s":"MCS 16x","x":164444,"y":906},{"s":"MCS 16x","x":164448,"y":911},{"s":"MCS 16x","x":164452,"y":921},{"s":"MCS 16x","x":164456,"y":918},{"s":"MCS 16x","x":164460,"y":893},{"s":"MCS 16x","x":164464,"y":903},{"s":"MCS 16x","x":164468,"y":901},{"s":"MCS 16x","x":164472,"y":903},{"s":"MCS 16x","x":164477,"y":906},{"s":"MCS 16x","x":164481,"y":905},{"s":"MCS 16x","x":164485,"y":908},{"s":"MCS 16x","x":164489,"y":906},{"s":"MCS 16x","x":164493,"y":907},{"s":"MCS 16x","x":164497,"y":908},{"s":"MCS 16x","x":164507,"y":911},{"s":"MCS 16x","x":164511,"y":907},{"s":"MCS 16x","x":164515,"y":910},{"s":"MCS 16x","x":164519,"y":908},{"s":"MCS 16x","x":164523,"y":911},{"s":"MCS 16x","x":164527,"y":913},{"s":"MCS 16x","x":164531,"y":915},{"s":"MCS 16x","x":164536,"y":912},{"s":"MCS 16x","x":164540,"y":921},{"s":"MCS 16x","x":164542,"y":925},{"s":"MCS 16x","x":164545,"y":913},{"s":"MCS 16x","x":164548,"y":908},{"s":"MCS 16x","x":164552,"y":898},{"s":"MCS 16x","x":164556,"y":896},{"s":"MCS 16x","x":164560,"y":898},{"s":"MCS 16x","x":164564,"y":893},{"s":"MCS 16x","x":164569,"y":896},{"s":"MCS 16x","x":164573,"y":893},{"s":"MCS 16x","x":164577,"y":890},{"s":"MCS 16x","x":164581,"y":888},{"s":"MCS 16x","x":164585,"y":896},{"s":"MCS 16x","x":164589,"y":908},{"s":"MCS 16x","x":164593,"y":911},{"s":"MCS 16x","x":164597,"y":903},{"s":"MCS 16x","x":164602,"y":918},{"s":"MCS 16x","x":164606,"y":913},{"s":"MCS 16x","x":164610,"y":918},{"s":"MCS 16x","x":164612,"y":878},{"s":"MCS 16x","x":164616,"y":886},{"s":"MCS 16x","x":164619,"y":893},{"s":"MCS 16x","x":164622,"y":883},{"s":"MCS 16x","x":164626,"y":888},{"s":"MCS 16x","x":164631,"y":890},{"s":"MCS 16x","x":164635,"y":896},{"s":"MCS 16x","x":164639,"y":893},{"s":"MCS 16x","x":164643,"y":901},{"s":"MCS 16x","x":164647,"y":886},{"s":"MCS 16x","x":164651,"y":874},{"s":"MCS 16x","x":164655,"y":893},{"s":"MCS 16x","x":164659,"y":903},{"s":"MCS 16x","x":164664,"y":908},{"s":"MCS 16x","x":164668,"y":910},{"s":"MCS 16x","x":164672,"y":908},{"s":"MCS 16x","x":164676,"y":913},{"s":"MCS 16x","x":164680,"y":915},{"s":"MCS 16x","x":164684,"y":913},{"s":"MCS 16x","x":164688,"y":916},{"s":"MCS 16x","x":164692,"y":915},{"s":"MCS 16x","x":164697,"y":913},{"s":"MCS 16x","x":164701,"y":911},{"s":"MCS 16x","x":164705,"y":908},{"s":"MCS 16x","x":164709,"y":912},{"s":"MCS 16x","x":164713,"y":918},{"s":"MCS 16x","x":164717,"y":924},{"s":"MCS 16x","x":164721,"y":929},{"s":"MCS 16x","x":164725,"y":929},{"s":"MCS 16x","x":164730,"y":934},{"s":"MCS 16x","x":164734,"y":939},{"s":"MCS 16x","x":164738,"y":941},{"s":"MCS 16x","x":164742,"y":946},{"s":"MCS 16x","x":164746,"y":947},{"s":"MCS 16x","x":164750,"y":949},{"s":"MCS 16x","x":164754,"y":954},{"s":"MCS 16x","x":164759,"y":951},{"s":"MCS 16x","x":164763,"y":954},{"s":"MCS 16x","x":164767,"y":964},{"s":"MCS 16x","x":164771,"y":979},{"s":"MCS 16x","x":164773,"y":982},{"s":"MCS 16x","x":164776,"y":972},{"s":"MCS 16x","x":164779,"y":946},{"s":"MCS 16x","x":164783,"y":934},{"s":"MCS 16x","x":164787,"y":917},{"s":"MCS 16x","x":164792,"y":918},{"s":"MCS 16x","x":164796,"y":921},{"s":"MCS 16x","x":164800,"y":898},{"s":"MCS 16x","x":164802,"y":890},{"s":"MCS 16x","x":164805,"y":918},{"s":"MCS 16x","x":164808,"y":954},{"s":"MCS 16x","x":164812,"y":989},{"s":"MCS 16x","x":164815,"y":1008},{"s":"MCS 16x","x":164818,"y":1008},{"s":"MCS 16x","x":164820,"y":954},{"s":"MCS 16x","x":164825,"y":891},{"s":"MCS 16x","x":164829,"y":840},{"s":"MCS 16x","x":164833,"y":817},{"s":"MCS 16x","x":164837,"y":810},{"s":"MCS 16x","x":164841,"y":827},{"s":"MCS 16x","x":164845,"y":853},{"s":"MCS 16x","x":164849,"y":843},{"s":"MCS 16x","x":164854,"y":863},{"s":"MCS 16x","x":164858,"y":863},{"s":"MCS 16x","x":164860,"y":906},{"s":"MCS 16x","x":164863,"y":863},{"s":"MCS 16x","x":164866,"y":855},{"s":"MCS 16x","x":164870,"y":857},{"s":"MCS 16x","x":164874,"y":860},{"s":"MCS 16x","x":164878,"y":862},{"s":"MCS 16x","x":164887,"y":863},{"s":"MCS 16x","x":164891,"y":864},{"s":"MCS 16x","x":164895,"y":866},{"s":"MCS 16x","x":164899,"y":873},{"s":"MCS 16x","x":164903,"y":878},{"s":"MCS 16x","x":164907,"y":883},{"s":"MCS 16x","x":164911,"y":888},{"s":"MCS 16x","x":164915,"y":893},{"s":"MCS 16x","x":164920,"y":898},{"s":"MCS 16x","x":164924,"y":901},{"s":"MCS 16x","x":164928,"y":902},{"s":"MCS 16x","x":164932,"y":903},{"s":"MCS 16x","x":164936,"y":905},{"s":"MCS 16x","x":164940,"y":903},{"s":"MCS 16x","x":164944,"y":906},{"s":"MCS 16x","x":164949,"y":905},{"s":"MCS 16x","x":164953,"y":903},{"s":"MCS 16x","x":164957,"y":907},{"s":"MCS 16x","x":164961,"y":903},{"s":"MCS 16x","x":164965,"y":910},{"s":"MCS 16x","x":164969,"y":912},{"s":"MCS 16x","x":164973,"y":907},{"s":"MCS 16x","x":164977,"y":906},{"s":"MCS 16x","x":164981,"y":905},{"s":"MCS 16x","x":164986,"y":906},{"s":"MCS 16x","x":164990,"y":908},{"s":"MCS 16x","x":164994,"y":910},{"s":"MCS 16x","x":164998,"y":907},{"s":"MCS 16x","x":165002,"y":903},{"s":"MCS 16x","x":165006,"y":905},{"s":"MCS 16x","x":165010,"y":907},{"s":"MCS 16x","x":165015,"y":908},{"s":"MCS 16x","x":165019,"y":902},{"s":"MCS 16x","x":165023,"y":896},{"s":"MCS 16x","x":165026,"y":893}
]
},
"vconcat": [
{
  "width": 413, "height": 256,
  "title": {"text": "×10⁵", "orient": "bottom", "anchor": "end", "frame": "group", "offset": -9, "dx": -2},
  "encoding": {
    "x": {"field": "x", "type": "quantitative", "scale": {"domain": [164000, 165026], "nice": false, "zero": false}, "axis": {"values": [164000,164100,164200,164300,164400,164500,164600,164700,164800,164900,165000], "labelExpr": "format(datum.value/100000, '.3~f')", "title": "sample"}},
    "y": {"field": "y", "type": "quantitative", "scale": {"domain": [805, 1000], "nice": false, "zero": false}, "axis": {"values": [820,840,860,880,900,920,940,960,980,1000], "title": null}},
    "color": {"field": "s", "type": "nominal", "scale": {"domain": ["ORIGINAL", "LBCS 16x", "SHS 16x"], "range": ["#0072BD", "#D95319", "#EDB120"]}}
  },
  "layer": [
    {"data": {"name": "orig"}, "mark": {"type": "line"}},
    {"data": {"name": "top"}, "transform": [{"filter": "datum.s == 'LBCS 16x'"}], "mark": {"type": "line", "interpolate": "step-after"}},
    {"data": {"name": "top"}, "transform": [{"filter": "datum.s == 'SHS 16x'"}], "mark": {"type": "line"}}
  ]
},
{
  "width": 413, "height": 257,
  "title": {"text": "×10⁵", "orient": "bottom", "anchor": "end", "frame": "group", "offset": -9, "dx": -2},
  "encoding": {
    "x": {"field": "x", "type": "quantitative", "scale": {"domain": [164000, 165026], "nice": false, "zero": false}, "axis": {"values": [164000,164100,164200,164300,164400,164500,164600,164700,164800,164900,165000], "labelExpr": "format(datum.value/100000, '.3~f')", "title": "sample"}},
    "y": {"field": "y", "type": "quantitative", "scale": {"domain": [805, 1000], "nice": false, "zero": false}, "axis": {"values": [820,840,860,880,900,920,940,960,980,1000], "title": null}},
    "color": {"field": "s", "type": "nominal", "scale": {"domain": ["ORIGINAL", "BERN 16x", "MCS 16x"], "range": ["#0072BD", "#D95319", "#EDB120"]}}
  },
  "layer": [
    {"data": {"name": "orig"}, "mark": {"type": "line"}},
    {"data": {"name": "bot"}, "transform": [{"filter": "datum.s == 'BERN 16x'"}], "mark": {"type": "line"}},
    {"data": {"name": "bot"}, "transform": [{"filter": "datum.s == 'MCS 16x'"}], "mark": {"type": "line"}}
  ]
}
],
"resolve": {"scale": {"color": "independent"}, "legend": {"color": "independent"}}
}
